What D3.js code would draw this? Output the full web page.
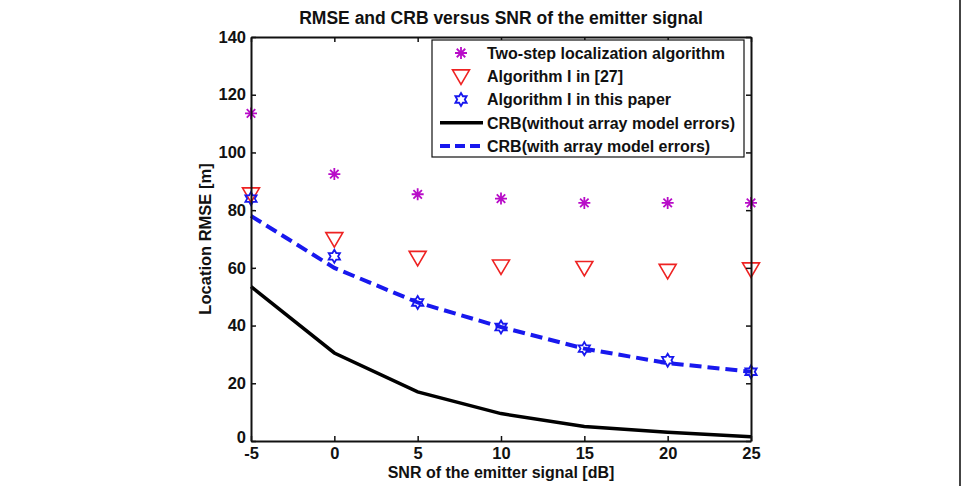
<!DOCTYPE html>
<html>
<head>
<meta charset="utf-8">
<script src="https://cdn.jsdelivr.net/npm/d3@7"></script>
<style>
  body { margin: 0; background: #fff; }
  svg text { font-family: "Liberation Sans", Arial, sans-serif; font-weight: bold; fill: #111; }
</style>
</head>
<body>
<svg id="chart"></svg>
<script>
// data
const snr = [-5, 0, 5, 10, 15, 20, 25];
const twoStep = [113.5, 92.5, 85.5, 84, 82.5, 82.5, 82.5];
const algRef27 = [85.5, 70, 63.5, 60.5, 60, 59, 59.5];
const algThisPaper = [84, 64, 48, 39.5, 32, 28, 24];
const crbNoErr = [53.5, 30.5, 17, 9.5, 5, 3, 1.5];
const crbWithErr = [78, 60, 48, 39.5, 32, 27, 24];
const xTicks = [-5, 0, 5, 10, 15, 20, 25];
const yTicks = [0, 20, 40, 60, 80, 100, 120, 140];

const legendItems = [
  { label: "Two-step localization algorithm", kind: "asterisk" },
  { label: "Algorithm I in [27]", kind: "triangle" },
  { label: "Algorithm I in this paper", kind: "hexagram" },
  { label: "CRB(without array model errors)", kind: "solid" },
  { label: "CRB(with array model errors)", kind: "dashed" }
];

const W = 961, H = 486;
const margin = { left: 251, right: 210, top: 37, bottom: 45 };
const magenta = "#b80cc8", red = "#ee2222", blue = "#1818ee";

const svg = d3.select("#chart").attr("width", W).attr("height", H);

const x = d3.scaleLinear().domain([-5, 25]).range([margin.left, W - margin.right]);
const y = d3.scaleLinear().domain([0, 140]).range([H - margin.bottom, margin.top]);

// marker shapes
function asteriskPath(r) {
  let p = "";
  for (let i = 0; i < 4; i++) {
    const a = i * Math.PI / 4;
    p += `M${r * Math.cos(a)},${r * Math.sin(a)}L${-r * Math.cos(a)},${-r * Math.sin(a)}`;
  }
  return p;
}
function trianglePath(r) {
  return `M${-r},${-r * 0.75}L${r},${-r * 0.75}L0,${r * 0.95}Z`;
}
function hexagramPath(r) {
  const pts = [];
  for (let i = 0; i < 12; i++) {
    const a = -Math.PI / 2 + i * Math.PI / 6;
    const rr = i % 2 === 0 ? r : r * 0.58;
    pts.push([rr * Math.cos(a), rr * Math.sin(a)]);
  }
  return "M" + pts.map(p => p.join(",")).join("L") + "Z";
}

// lines
const line = d3.line().x(d => x(d[0])).y(d => y(d[1]));

svg.append("path")
  .datum(d3.zip(snr, crbNoErr))
  .attr("d", line)
  .attr("fill", "none")
  .attr("stroke", "#000")
  .attr("stroke-width", 3.5);

svg.append("path")
  .datum(d3.zip(snr, crbWithErr))
  .attr("d", line)
  .attr("fill", "none")
  .attr("stroke", blue)
  .attr("stroke-width", 4)
  .attr("stroke-dasharray", "12,6");

// markers
svg.selectAll(".ast")
  .data(d3.zip(snr, twoStep))
  .enter().append("path")
  .attr("class", "ast")
  .attr("transform", d => `translate(${x(d[0])},${y(d[1])})`)
  .attr("d", asteriskPath(6))
  .attr("stroke", magenta)
  .attr("stroke-width", 1.8)
  .attr("fill", "none");

svg.selectAll(".tri")
  .data(d3.zip(snr, algRef27))
  .enter().append("path")
  .attr("class", "tri")
  .attr("transform", d => `translate(${x(d[0])},${y(d[1])})`)
  .attr("d", trianglePath(8.5))
  .attr("stroke", red)
  .attr("stroke-width", 1.6)
  .attr("fill", "none");

svg.selectAll(".hex")
  .data(d3.zip(snr, algThisPaper))
  .enter().append("path")
  .attr("class", "hex")
  .attr("transform", d => `translate(${x(d[0])},${y(d[1])})`)
  .attr("d", hexagramPath(6.5))
  .attr("stroke", blue)
  .attr("stroke-width", 1.8)
  .attr("fill", "none");

// axes (MATLAB-style box with inward ticks)
const plain = d => String(d);
const xAxisB = d3.axisBottom(x).tickValues(xTicks).tickFormat(plain).tickSizeInner(-5).tickSizeOuter(0).tickPadding(6);
const xAxisT = d3.axisTop(x).tickValues(xTicks).tickSizeInner(-5).tickSizeOuter(0).tickFormat("");
const yAxisL = d3.axisLeft(y).tickValues(yTicks).tickFormat(plain).tickSizeInner(-5).tickSizeOuter(0).tickPadding(5);
const yAxisR = d3.axisRight(y).tickValues(yTicks).tickSizeInner(-5).tickSizeOuter(0).tickFormat("");

function styleAxis(g) {
  g.selectAll("path").attr("stroke", "#111").attr("stroke-width", 2);
  g.selectAll("line").attr("stroke", "#111").attr("stroke-width", 1.5);
  g.selectAll("text").attr("font-size", 16.5).attr("font-family", null).attr("fill", "#111");
}

svg.append("g").attr("transform", `translate(0,${H - margin.bottom})`).call(xAxisB).call(styleAxis);
svg.append("g").attr("transform", `translate(0,${margin.top})`).call(xAxisT).call(styleAxis);
const yg = svg.append("g").attr("transform", `translate(${margin.left},0)`).call(yAxisL).call(styleAxis);
svg.append("g").attr("transform", `translate(${W - margin.right},0)`).call(yAxisR).call(styleAxis);

// lift the "0" label a bit so it clears the "-5" below it
yg.selectAll(".tick").filter(d => d === 0).select("text").attr("y", -4);

// title and labels
svg.append("text")
  .attr("x", (x(-5) + x(25)) / 2)
  .attr("y", 24)
  .attr("text-anchor", "middle")
  .attr("font-size", 17.5)
  .text("RMSE and CRB versus SNR of the emitter signal");

svg.append("text")
  .attr("x", (x(-5) + x(25)) / 2)
  .attr("y", 478)
  .attr("text-anchor", "middle")
  .attr("font-size", 16)
  .text("SNR of the emitter signal [dB]");

svg.append("text")
  .attr("transform", `translate(211,${(y(0) + y(140)) / 2}) rotate(-90)`)
  .attr("text-anchor", "middle")
  .attr("font-size", 16.5)
  .text("Location RMSE [m]");

// legend
const lg = svg.append("g");
lg.append("rect")
  .attr("x", 432).attr("y", 40)
  .attr("width", 312).attr("height", 117)
  .attr("fill", "#fff")
  .attr("stroke", "#111")
  .attr("stroke-width", 1.2);

const rowY = d3.scalePoint().domain(legendItems.map(d => d.label)).range([53, 146]);

legendItems.forEach(item => {
  const ry = rowY(item.label);
  const cx = 461;
  if (item.kind === "asterisk") {
    lg.append("path").attr("transform", `translate(${cx},${ry})`).attr("d", asteriskPath(6))
      .attr("stroke", magenta).attr("stroke-width", 1.8).attr("fill", "none");
  } else if (item.kind === "triangle") {
    lg.append("path").attr("transform", `translate(${cx},${ry})`).attr("d", trianglePath(8.5))
      .attr("stroke", red).attr("stroke-width", 1.6).attr("fill", "none");
  } else if (item.kind === "hexagram") {
    lg.append("path").attr("transform", `translate(${cx},${ry})`).attr("d", hexagramPath(6.5))
      .attr("stroke", blue).attr("stroke-width", 1.8).attr("fill", "none");
  } else {
    lg.append("line").attr("x1", 440).attr("x2", 483).attr("y1", ry).attr("y2", ry)
      .attr("stroke", item.kind === "solid" ? "#000" : blue)
      .attr("stroke-width", item.kind === "solid" ? 3.5 : 4)
      .attr("stroke-dasharray", item.kind === "solid" ? null : "10,5");
  }
  lg.append("text")
    .attr("x", 487).attr("y", ry)
    .attr("dy", "0.36em")
    .attr("font-size", 16)
    .text(item.label);
});

// image frame edge on the right
svg.append("line").attr("x1", 960).attr("x2", 960).attr("y1", 0).attr("y2", H)
  .attr("stroke", "#444").attr("stroke-width", 2);
</script>
</body>
</html>
